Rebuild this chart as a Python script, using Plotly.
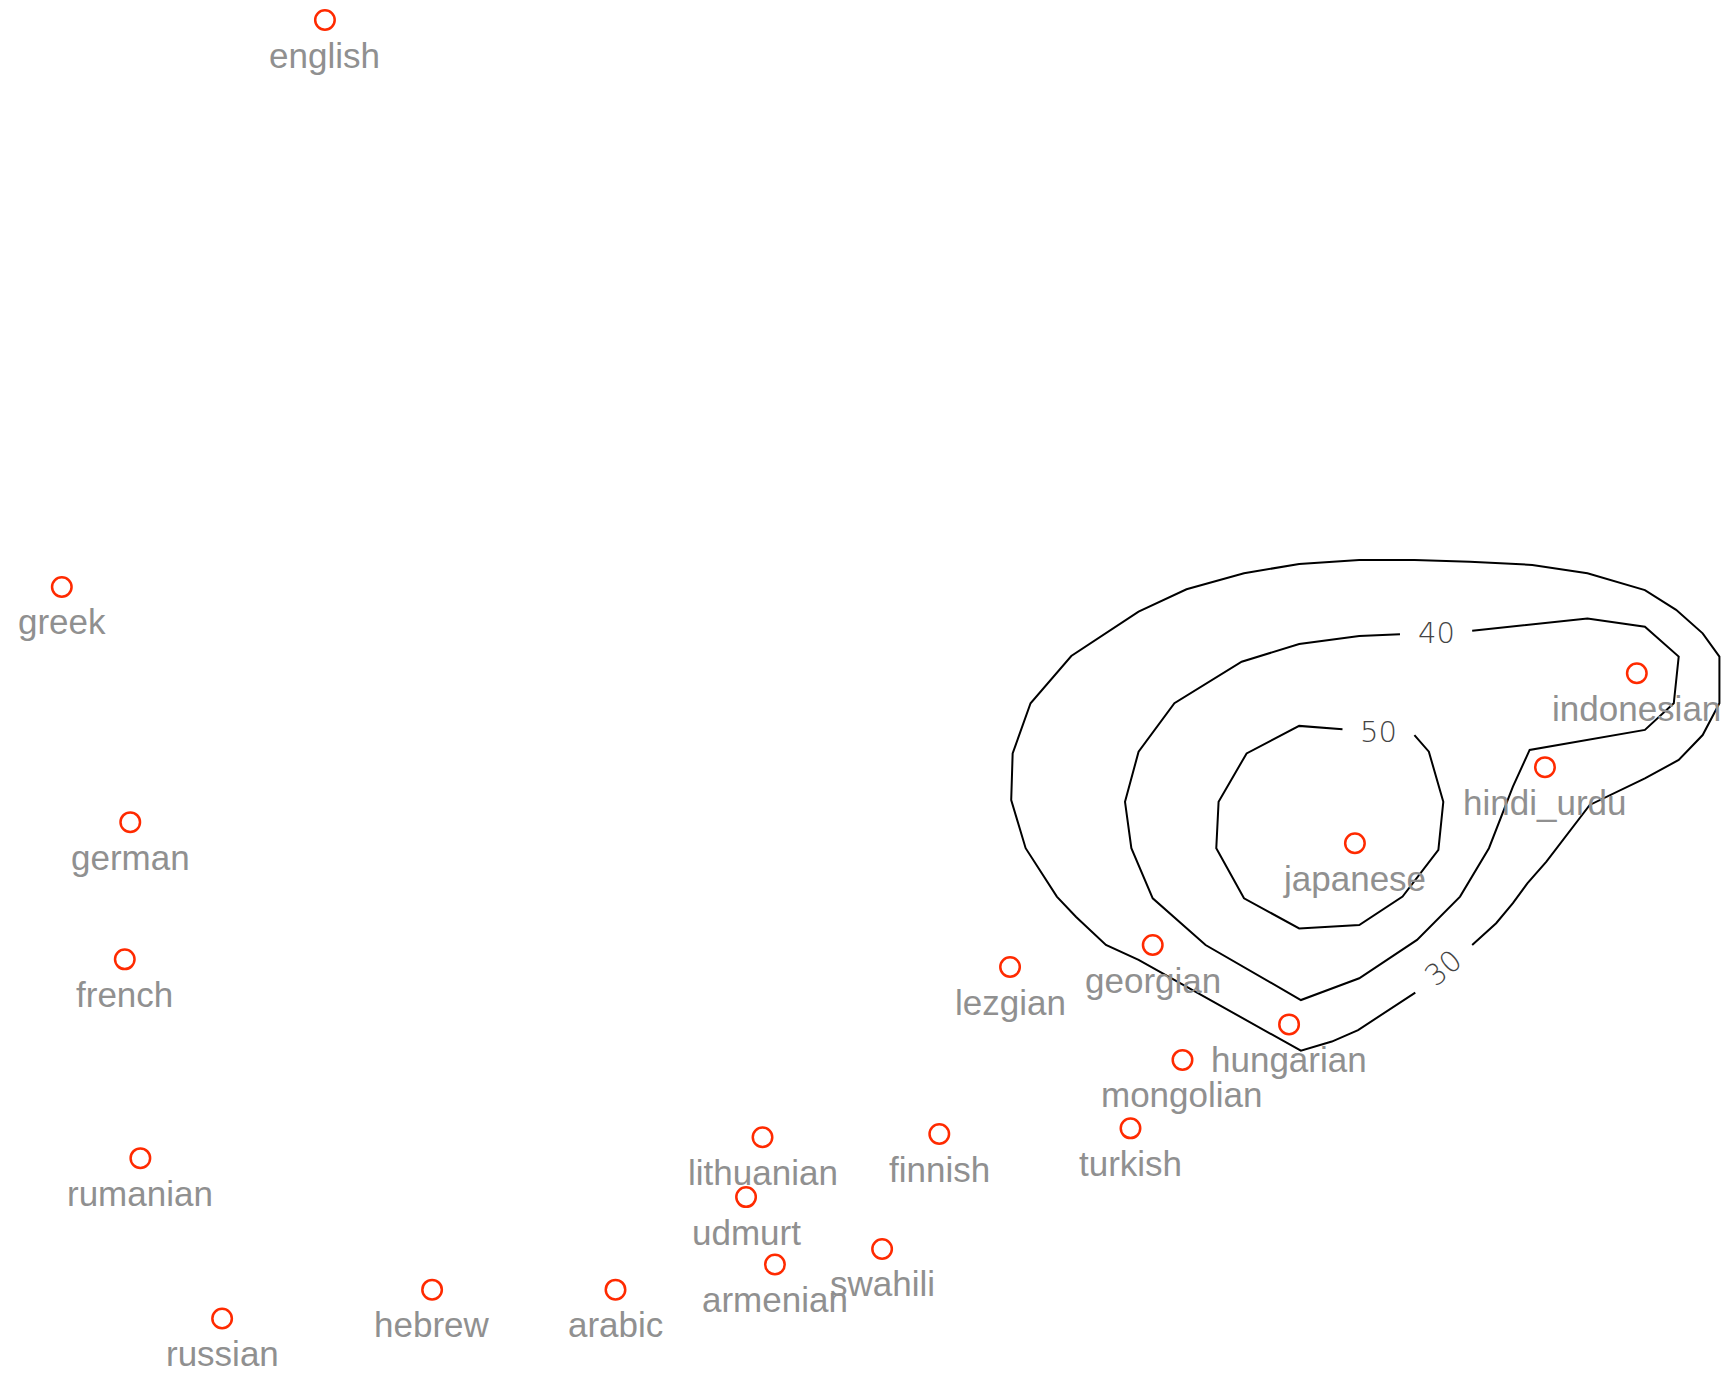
import plotly.graph_objects as go

# Language positions on the two-dimensional map
languages = ["english", "greek", "german", "french", "rumanian", "russian",
             "hebrew", "arabic", "armenian", "udmurt", "lithuanian", "swahili",
             "finnish", "turkish", "mongolian", "hungarian", "lezgian",
             "georgian", "japanese", "hindi_urdu", "indonesian"]
dim1 = [-1.875, -2.786, -2.549, -2.568, -2.514, -2.231,
        -1.504, -0.869, -0.317, -0.417, -0.360, 0.054,
        0.252, 0.914, 1.094, 1.463, 0.497,
        0.991, 1.691, 2.349, 2.667]
dim2 = [2.330, 0.351, -0.470, -0.949, -1.643, -2.203,
        -2.102, -2.102, -2.014, -1.779, -1.570, -1.960,
        -1.559, -1.539, -1.300, -1.176, -0.976,
        -0.899, -0.544, -0.278, 0.050]

# Density contour lines (level 30, 40, 50)
level30_x = [2.097, 2.180, 2.238, 2.288, 2.354, 2.438, 2.504, 2.695, 2.812, 2.895,
             2.953, 2.953, 2.895, 2.803, 2.695, 2.496, 2.305, 2.089, 1.897, 1.706,
             1.498, 1.307, 1.108, 0.942, 0.709, 0.568, 0.506, 0.501, 0.551, 0.659,
             0.725, 0.829, 0.942, 1.504, 1.611, 1.702, 1.900]
level30_y = [-0.899, -0.823, -0.753, -0.684, -0.608, -0.497, -0.410, -0.317, -0.253, -0.166,
             -0.055, 0.108, 0.189, 0.271, 0.340, 0.399, 0.428, 0.439, 0.445, 0.445,
             0.431, 0.399, 0.343, 0.265, 0.110, -0.055, -0.230, -0.393, -0.561, -0.730,
             -0.800, -0.899, -0.951, -1.268, -1.236, -1.196, -1.065]

level40_x = [2.097, 2.496, 2.695, 2.812, 2.795, 2.695, 2.296, 2.238, 2.155, 2.055,
             1.906, 1.706, 1.504, 1.174, 0.991, 0.917, 0.895, 0.942, 1.066, 1.299,
             1.498, 1.706, 1.847]
level40_y = [0.198, 0.241, 0.212, 0.108, -0.055, -0.148, -0.218, -0.346, -0.561, -0.730,
             -0.881, -1.015, -1.091, -0.899, -0.736, -0.561, -0.399, -0.224, -0.055, 0.090,
             0.152, 0.180, 0.186]

level50_x = [1.897, 1.947, 1.997, 1.980, 1.856, 1.706, 1.498, 1.307, 1.211, 1.219,
             1.316, 1.498, 1.648]
level50_y = [-0.166, -0.224, -0.399, -0.567, -0.730, -0.829, -0.841, -0.736, -0.561, -0.399,
             -0.230, -0.134, -0.146]

level_names = ["30", "40", "50"]
level_label_x = [1.997, 1.972, 1.773]
level_label_y = [-0.980, 0.189, -0.154]
level_label_angle = [-40, 0, 0]

fig = go.Figure()

for lx, ly in [(level30_x, level30_y), (level40_x, level40_y), (level50_x, level50_y)]:
    fig.add_trace(go.Scatter(
        x=lx, y=ly, mode="lines",
        line=dict(color="black", width=2),
        hoverinfo="skip", showlegend=False,
    ))

fig.add_trace(go.Scatter(
    x=dim1, y=dim2, mode="markers",
    marker=dict(symbol="circle-open", size=19.5, color="#ff2a00",
                line=dict(width=2.5, color="#ff2a00")),
    text=languages, hoverinfo="text", showlegend=False,
))

annotations = []
for name, x, y in zip(languages, dim1, dim2):
    annotations.append(dict(
        x=x, y=y, text=name, showarrow=False, yshift=-35,
        font=dict(family="Liberation Sans, Arial, sans-serif", size=35, color="#909090"),
    ))
for name, x, y, ang in zip(level_names, level_label_x, level_label_y, level_label_angle):
    annotations.append(dict(
        x=x, y=y, text=name, showarrow=False, textangle=ang,
        font=dict(family="DejaVu Sans", size=29, color="#444444", weight=200),
    ))

fig.update_layout(
    width=1733, height=1375,
    margin=dict(l=0, r=0, t=0, b=0),
    paper_bgcolor="white", plot_bgcolor="white",
    xaxis=dict(range=[-3.0, 3.0], visible=False, fixedrange=True),
    yaxis=dict(range=[-2.4, 2.4], visible=False, fixedrange=True),
    annotations=annotations,
)

fig.write_html("out.html")
